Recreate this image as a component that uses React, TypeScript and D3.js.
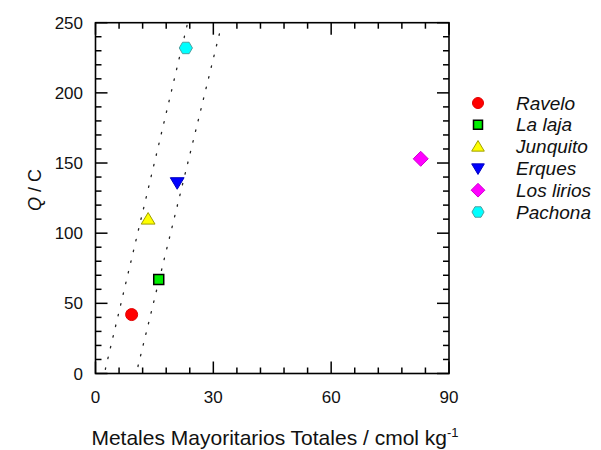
import React from 'react';
import * as d3 from 'd3';

const sites = ['Ravelo', 'La laja', 'Junquito', 'Erques', 'Los lirios', 'Pachona'];
const metals = [9.2, 16.1, 13.4, 20.8, 82.8, 23.0];
const qc = [42, 67, 110, 136, 153, 232];
const fills = ['#ff0000', '#00ee00', '#ffff00', '#0000ff', '#ff00ff', '#00ffff'];
const outlines = ['#e00000', '#000000', '#a0a000', '#0000c0', '#d000d0', '#50a0a0'];
const shapes = ['circle', 'square', 'triangle', 'triangleDown', 'diamond', 'hexagon'];
const xTicks = [0, 30, 60, 90];
const yTicks = [0, 50, 100, 150, 200, 250];
const leftBandX = [2.5, 23.3];
const leftBandY = [3, 248];
const rightBandX = [10.8, 31.8];
const rightBandY = [5, 245];

const W = 601;
const H = 450;
const L = 95.5, R = 449, T = 22.7, B = 373.5;

function markerPath(shape: string, s: number): string {
  switch (shape) {
    case 'circle':
      return d3.symbol(d3.symbolCircle, Math.PI * s * s)() as string;
    case 'square':
      return `M${-s},${-s}L${s},${-s}L${s},${s}L${-s},${s}Z`;
    case 'triangle': {
      const h = s * 1.1;
      return `M0,${-h}L${s * 1.15},${h * 0.75}L${-s * 1.15},${h * 0.75}Z`;
    }
    case 'triangleDown': {
      const h = s * 1.1;
      return `M0,${h}L${s * 1.15},${-h * 0.75}L${-s * 1.15},${-h * 0.75}Z`;
    }
    case 'diamond': {
      const d = s * 1.25;
      return `M0,${-d}L${d},0L0,${d}L${-d},0Z`;
    }
    case 'hexagon': {
      const pts = d3.range(6).map((i) => {
        const a = (Math.PI / 3) * i;
        return [Math.cos(a) * s * 1.1, Math.sin(a) * s * 1.1];
      });
      return 'M' + pts.map((p) => p.join(',')).join('L') + 'Z';
    }
  }
  return '';
}

export default function App() {
  const x = d3.scaleLinear().domain([0, 90]).range([L, R]);
  const y = d3.scaleLinear().domain([0, 250]).range([B, T]);

  const xMinor = d3.range(0, 91, 6);
  const yMinor = d3.range(0, 251, 10);
  const line = d3.line<[number, number]>().x((d) => x(d[0])).y((d) => y(d[1]));
  const leftBand: [number, number][] = leftBandX.map((v, i) => [v, leftBandY[i]]);
  const rightBand: [number, number][] = rightBandX.map((v, i) => [v, rightBandY[i]]);

  const font = 'Liberation Sans, Arial, Helvetica, sans-serif';
  const tickEls: React.ReactNode[] = [];
  xMinor.forEach((v, i) => {
    const len = v % 30 === 0 ? 12 : 6;
    tickEls.push(<line key={'xb' + i} x1={x(v)} x2={x(v)} y1={B} y2={B - len} />);
    tickEls.push(<line key={'xt' + i} x1={x(v)} x2={x(v)} y1={T} y2={T + len} />);
  });
  yMinor.forEach((v, i) => {
    const len = v % 50 === 0 ? 12 : 6;
    tickEls.push(<line key={'yl' + i} x1={L} x2={L + len} y1={y(v)} y2={y(v)} />);
    tickEls.push(<line key={'yr' + i} x1={R} x2={R - len} y1={y(v)} y2={y(v)} />);
  });

  return (
    <svg width={W} height={H} style={{ position: 'absolute', left: 0, top: 0, background: '#fff' }}
      fontFamily={font}>
      <rect x={0} y={0} width={W} height={H} fill="#fff" />
      <g stroke="#222" strokeWidth={1.3} fill="none" strokeDasharray="1.5,9.5" strokeLinecap="round">
        <path d={line(leftBand) as string} />
        <path d={line(rightBand) as string} />
      </g>
      <g stroke="#000" strokeWidth={1.5}>{tickEls}</g>
      <rect x={L} y={T} width={R - L} height={B - T} fill="none" stroke="#000" strokeWidth={1.6} />
      <g fontSize={17} fill="#111">
        {xTicks.map((v) => (
          <text key={'xl' + v} x={x(v)} y={403} textAnchor="middle">{v}</text>
        ))}
        {yTicks.map((v) => (
          <text key={'yl' + v} x={83} y={y(v) + 6} textAnchor="end">{v}</text>
        ))}
      </g>
      <text x={275} y={445} textAnchor="middle" fontSize={21} fill="#111">
        Metales Mayoritarios Totales / cmol kg
        <tspan dy={-8} fontSize={13}>-1</tspan>
      </text>
      <text transform={`translate(41,190) rotate(-90)`} textAnchor="middle" fontSize={18} fill="#111">
        <tspan fontStyle="italic">Q</tspan> / C
      </text>
      <g>
        {sites.map((s, i) => (
          <path key={'pt' + s} transform={`translate(${x(metals[i])},${y(qc[i])})`}
            d={markerPath(shapes[i], shapes[i] === 'square' ? 5 : 6)}
            fill={fills[i]} stroke={outlines[i]} strokeWidth={shapes[i] === 'square' ? 1.5 : 1} />
        ))}
      </g>
      <g>
        {sites.map((s, i) => {
          const ly = 103 + i * 21.8;
          return (
            <g key={'lg' + s}>
              <path transform={`translate(478,${ly})`}
                d={markerPath(shapes[i], shapes[i] === 'square' ? 4.5 : 5.5)}
                fill={fills[i]} stroke={outlines[i]} strokeWidth={shapes[i] === 'square' ? 1.5 : 1} />
              <text x={516} y={ly + 6.5} fontSize={19} fontStyle="italic" fill="#111">{s}</text>
            </g>
          );
        })}
      </g>
    </svg>
  );
}
